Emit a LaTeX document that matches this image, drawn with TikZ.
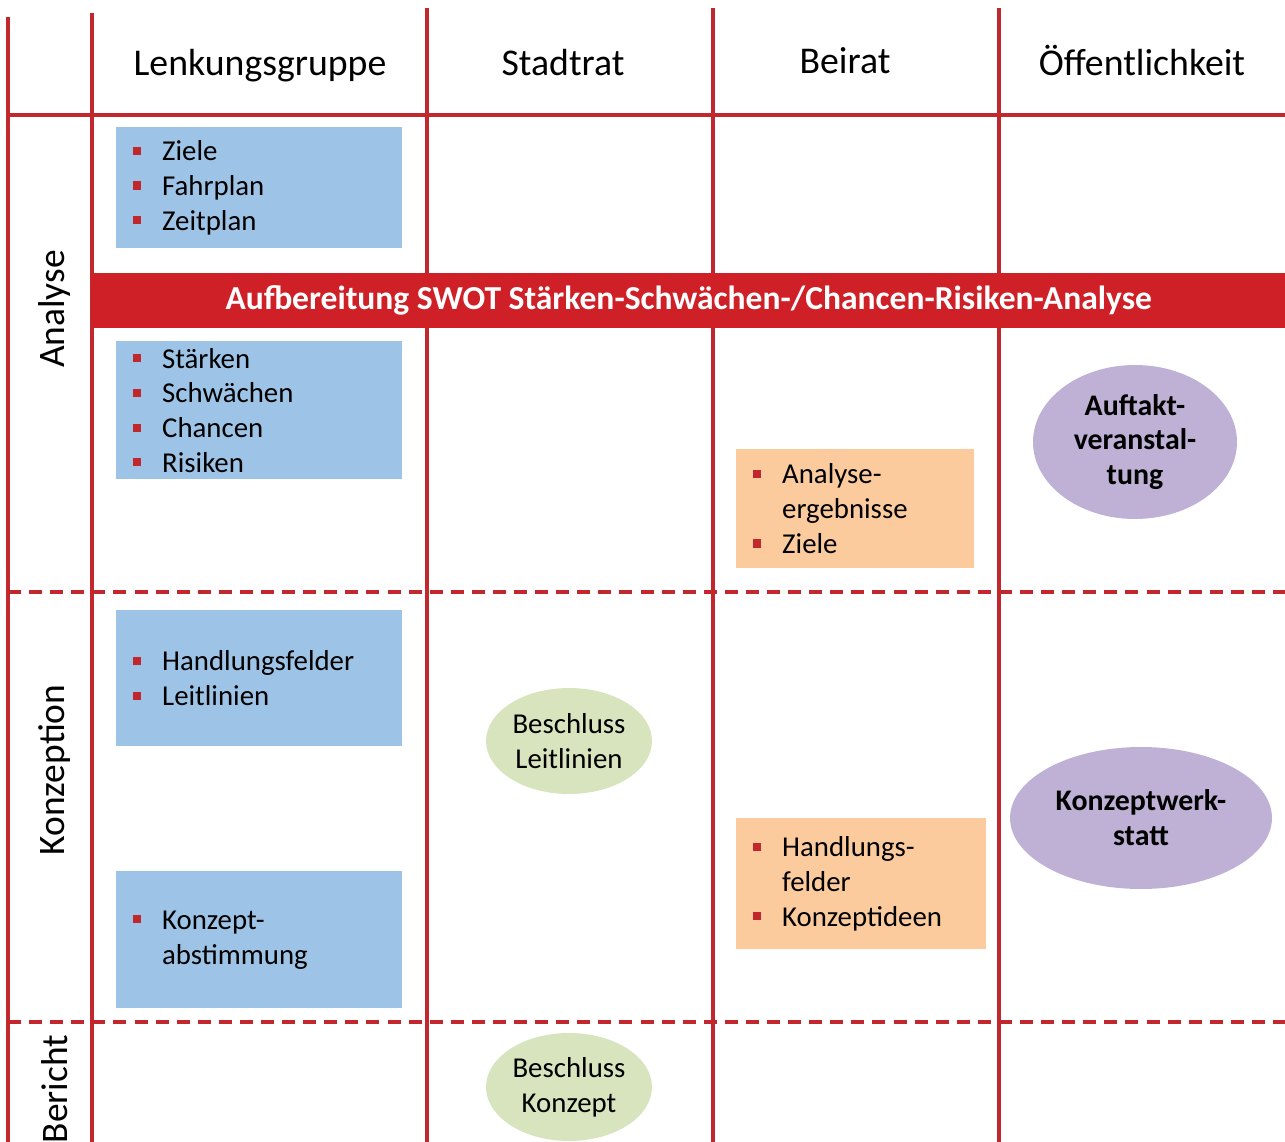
\documentclass[tikz,border=0pt]{standalone}
\usepackage{fontspec}
\setmainfont{Carlito}
\usetikzlibrary{shapes.geometric}

\definecolor{gridred}{RGB}{193,39,45}
\definecolor{bannerred}{RGB}{208,32,39}
\definecolor{boxblue}{RGB}{157,195,230}
\definecolor{boxorange}{RGB}{251,203,158}
\definecolor{ovalpurple}{RGB}{191,177,213}
\definecolor{ovalgreen}{RGB}{215,228,189}

% square red bullet and matching hanging indent
\newcommand\bul{\makebox[16.4pt][l]{\textcolor{gridred}{\raisebox{3.4pt}{\rule{4.6pt}{4.6pt}}}}}
\newcommand\ind{\hspace*{16.4pt}}

\tikzset{
  gridline/.style={draw=gridred, line width=1.8pt},
  griddash/.style={gridline, dash pattern=on 7.4pt off 4.6pt},
  bodyfont/.style={font=\fontsize{16.4}{19.8}\selectfont},
  header/.style={font=\fontsize{21.5}{26}\selectfont, anchor=base, inner sep=0pt},
  rowlabel/.style={font=\fontsize{21.3}{26}\selectfont, rotate=90, inner sep=0pt},
  listbox/.style={bodyfont, rectangle, anchor=north west, inner xsep=0.34cm,
    inner ysep=0pt, align=left},
  bluebox/.style={listbox, fill=boxblue, minimum width=5.72cm, text width=5.04cm},
  orangebox/.style={listbox, fill=boxorange},
  oval/.style={ellipse, inner sep=0pt, align=center, bodyfont},
  purpleoval/.style={oval, fill=ovalpurple, font=\fontsize{17}{19.8}\selectfont\bfseries},
  greenoval/.style={oval, fill=ovalgreen},
  banner/.style={rectangle, fill=bannerred, text=white, anchor=north west,
    inner sep=0pt, font=\fontsize{19.1}{22}\selectfont\bfseries}
}

\begin{document}
\begin{tikzpicture}[x=0.02cm, y=-0.02cm]
  \useasboundingbox (0,0) rectangle (1285,1142);

  % grid of lanes and phases
  \coordinate (c0t) at (8,17);    \coordinate (c0b) at (8,1142);
  \coordinate (c1t) at (92,13);   \coordinate (c1b) at (92,1142);
  \coordinate (c2t) at (427,8);   \coordinate (c2b) at (427,1142);
  \coordinate (c3t) at (713,8);   \coordinate (c3b) at (713,1142);
  \coordinate (c4t) at (999,8);   \coordinate (c4b) at (999,1142);
  \coordinate (h0l) at (8,115);   \coordinate (h0r) at (1285,115);
  \coordinate (h1l) at (8,592);   \coordinate (h1r) at (1285,592);
  \coordinate (h2l) at (8,1022);  \coordinate (h2r) at (1285,1022);

  \draw[gridline] (c0t) -- (c0b);
  \draw[gridline] (c1t) -- (c1b);
  \draw[gridline] (c2t) -- (c2b);
  \draw[gridline] (c3t) -- (c3b);
  \draw[gridline] (c4t) -- (c4b);
  \draw[gridline] (h0l) -- (h0r);
  \draw[griddash] (h1l) -- (h1r);
  \draw[griddash] (h2l) -- (h2r);

  % column headers
  \node[header] (hLenk)  at (260,76)  {Lenkungsgruppe};
  \node[header] (hStadt) at (563,76)  {Stadtrat};
  \node[header] (hBeir)  at (845,74)  {Beirat};
  \node[header] (hOeff)  at (1142,76) {Öffentlichkeit};

  % phase labels
  \node[rowlabel] (rAnalyse)    at (55,309)  {Analyse};
  \node[rowlabel] (rKonzeption) at (55,770)  {Konzeption};
  \node[rowlabel] (rBericht)    at (55,1089) {Bericht};

  % SWOT banner
  \node[banner, minimum width=23.86cm, minimum height=1.1cm] (swot) at (92,273)
    {Aufbereitung SWOT Stärken-Schwächen-/Chancen-Risiken-Analyse};

  % steering group
  \node[bluebox, minimum height=2.42cm] (lg1) at (116,127)
    {\bul Ziele\\\bul Fahrplan\\\bul Zeitplan};
  \node[bluebox, minimum height=2.76cm] (lg2) at (116,341)
    {\bul Stärken\\\bul Schwächen\\\bul Chancen\\\bul Risiken};
  \node[bluebox, minimum height=2.72cm] (lg3) at (116,610)
    {\bul Handlungsfelder\\\bul Leitlinien};
  \node[bluebox, minimum height=2.74cm] (lg4) at (116,871)
    {\bul Konzept-\\\ind abstimmung};

  % advisory board
  \node[orangebox, minimum width=4.76cm, text width=4.08cm, minimum height=2.38cm] (br1) at (736,449)
    {\bul Analyse-\\\ind ergebnisse\\\bul Ziele};
  \node[orangebox, minimum width=5.0cm, text width=4.32cm, minimum height=2.62cm] (br2) at (736,818)
    {\bul Handlungs-\\\ind felder\\\bul Konzeptideen};

  % city council
  \node[greenoval, minimum width=3.32cm, minimum height=2.12cm] (sr1) at (569,741)
    {Beschluss\\Leitlinien};
  \node[greenoval, minimum width=3.32cm, minimum height=2.16cm] (sr2) at (569,1087)
    {Beschluss\\Konzept};

  % public
  \node[purpleoval, minimum width=4.08cm, minimum height=3.08cm] (oe1) at (1135,442)
    {Auftakt-\\veranstal-\\tung};
  \node[purpleoval, minimum width=5.24cm, minimum height=2.84cm] (oe2) at (1141,818)
    {Konzeptwerk-\\statt};
\end{tikzpicture}
\end{document}
